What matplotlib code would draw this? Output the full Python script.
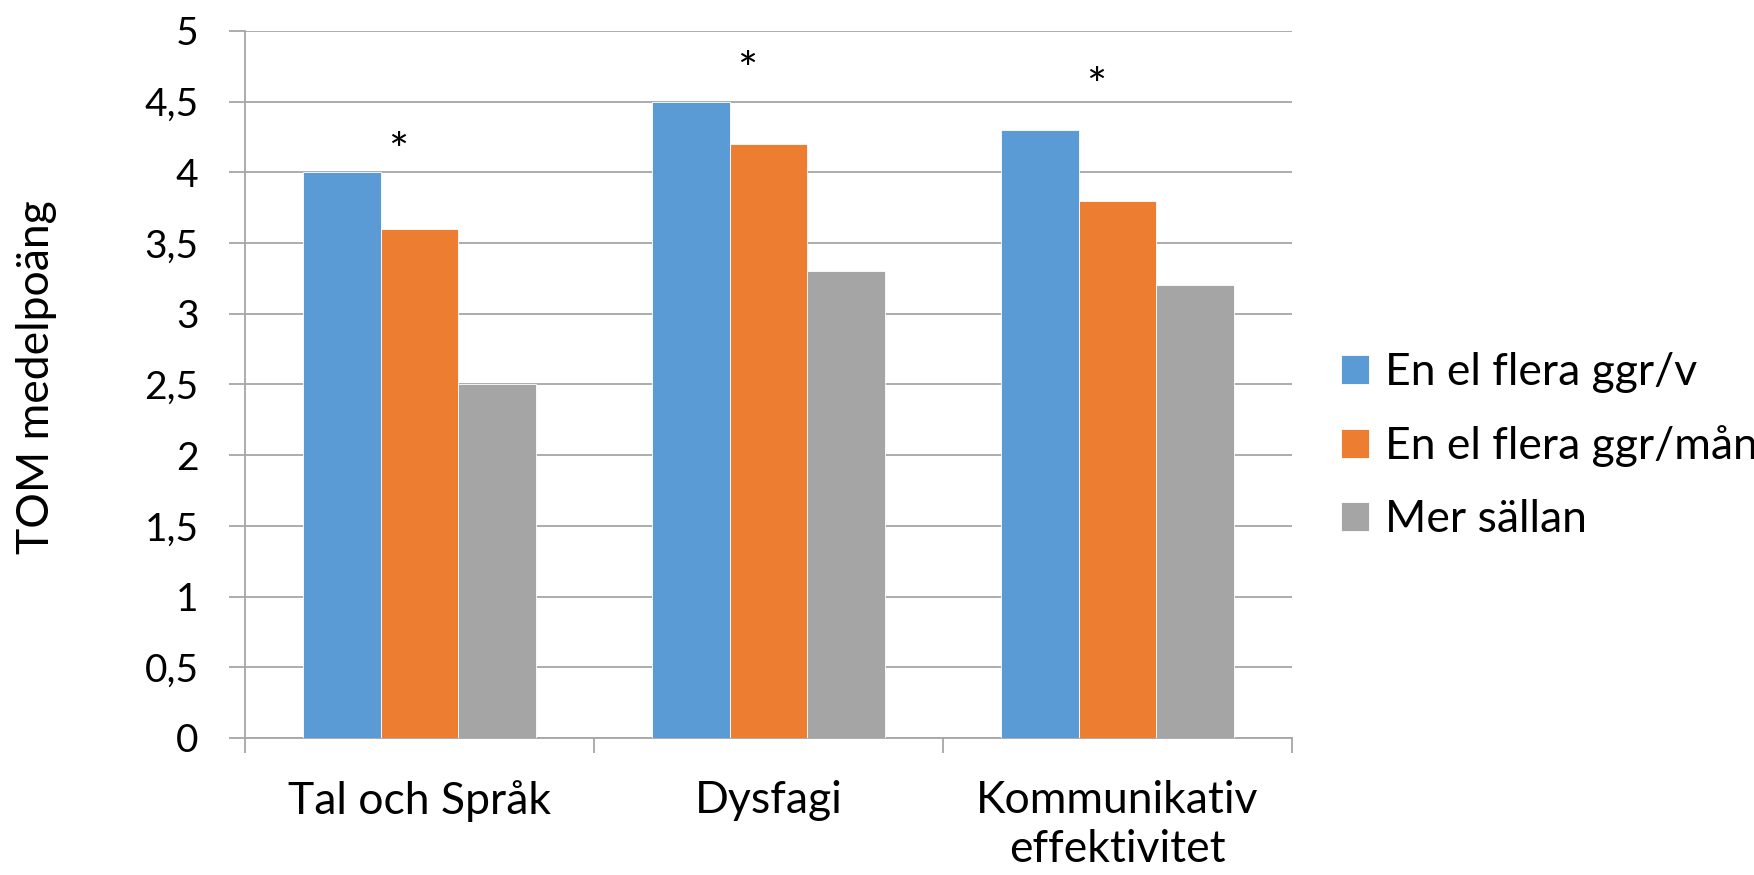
import matplotlib.pyplot as plt
import numpy as np

plt.rcParams['font.family'] = ['Lato', 'DejaVu Sans']

categories = ['Tal och Språk', 'Dysfagi', 'Kommunikativ\neffektivitet']
series_names = ['En el flera ggr/v', 'En el flera ggr/mån', 'Mer sällan']
vals_v = [4.0, 4.5, 4.3]
vals_man = [3.6, 4.2, 3.8]
vals_sallan = [2.5, 3.3, 3.2]
star_y = [4.25, 4.82, 4.71]
yticks = [0, 0.5, 1, 1.5, 2, 2.5, 3, 3.5, 4, 4.5, 5]
ytick_labels = ['0', '0,5', '1', '1,5', '2', '2,5', '3', '3,5', '4', '4,5', '5']

colors = ['#5B9BD5', '#ED7D31', '#A5A5A5']
grid_c = '#A6A6A6'

fig = plt.figure(figsize=(17.54, 8.75), dpi=100)
ax = fig.add_axes([0.1397, 0.1566, 0.5969, 0.808])

x = np.arange(len(categories))
w = 1 / 4.5
for i, vals in enumerate([vals_v, vals_man, vals_sallan]):
    ax.bar(x + (i - 1) * w, vals, w, color=colors[i], label=series_names[i],
           edgecolor='white', linewidth=0.6, zorder=3)

# asterisk glyph sits high in its box, so shift the anchor down a bit
for xi, sy in zip(x, star_y):
    ax.text(xi - 0.06, sy - 0.11, '*', ha='center', va='center', fontsize=34)

ax.set_xlim(-0.5, len(categories) - 0.5)
ax.set_ylim(0, 5)
ax.set_yticks(yticks)
ax.set_yticklabels(ytick_labels, fontsize=28)
ax.yaxis.grid(True, color=grid_c, linewidth=1.3, zorder=0)
ax.tick_params(axis='y', length=11.5, width=1.3, color=grid_c, pad=22)

ax.set_xticks(x)
ax.set_xticklabels(categories, fontsize=32, linespacing=1.25)
ax.set_xticks(np.arange(len(categories) + 1) - 0.5, minor=True)
ax.tick_params(axis='x', which='major', length=0, pad=30)
ax.tick_params(axis='x', which='minor', length=11, width=1.3, color=grid_c)

for s in ['top', 'right']:
    ax.spines[s].set_visible(False)
ax.spines['left'].set_color(grid_c)
ax.spines['left'].set_linewidth(1.3)
ax.spines['bottom'].set_color(grid_c)
ax.spines['bottom'].set_linewidth(1.3)

ax.set_ylabel('TOM medelpoäng', fontsize=32)
ax.yaxis.set_label_coords(-0.18, 0.51)

fig.legend(loc='center left', bbox_to_anchor=(0.742, 0.49), frameon=False,
           fontsize=32, handlelength=0.62, handleheight=0.62, handletextpad=0.35,
           labelspacing=0.72)

fig.savefig('out.png', dpi=100)
